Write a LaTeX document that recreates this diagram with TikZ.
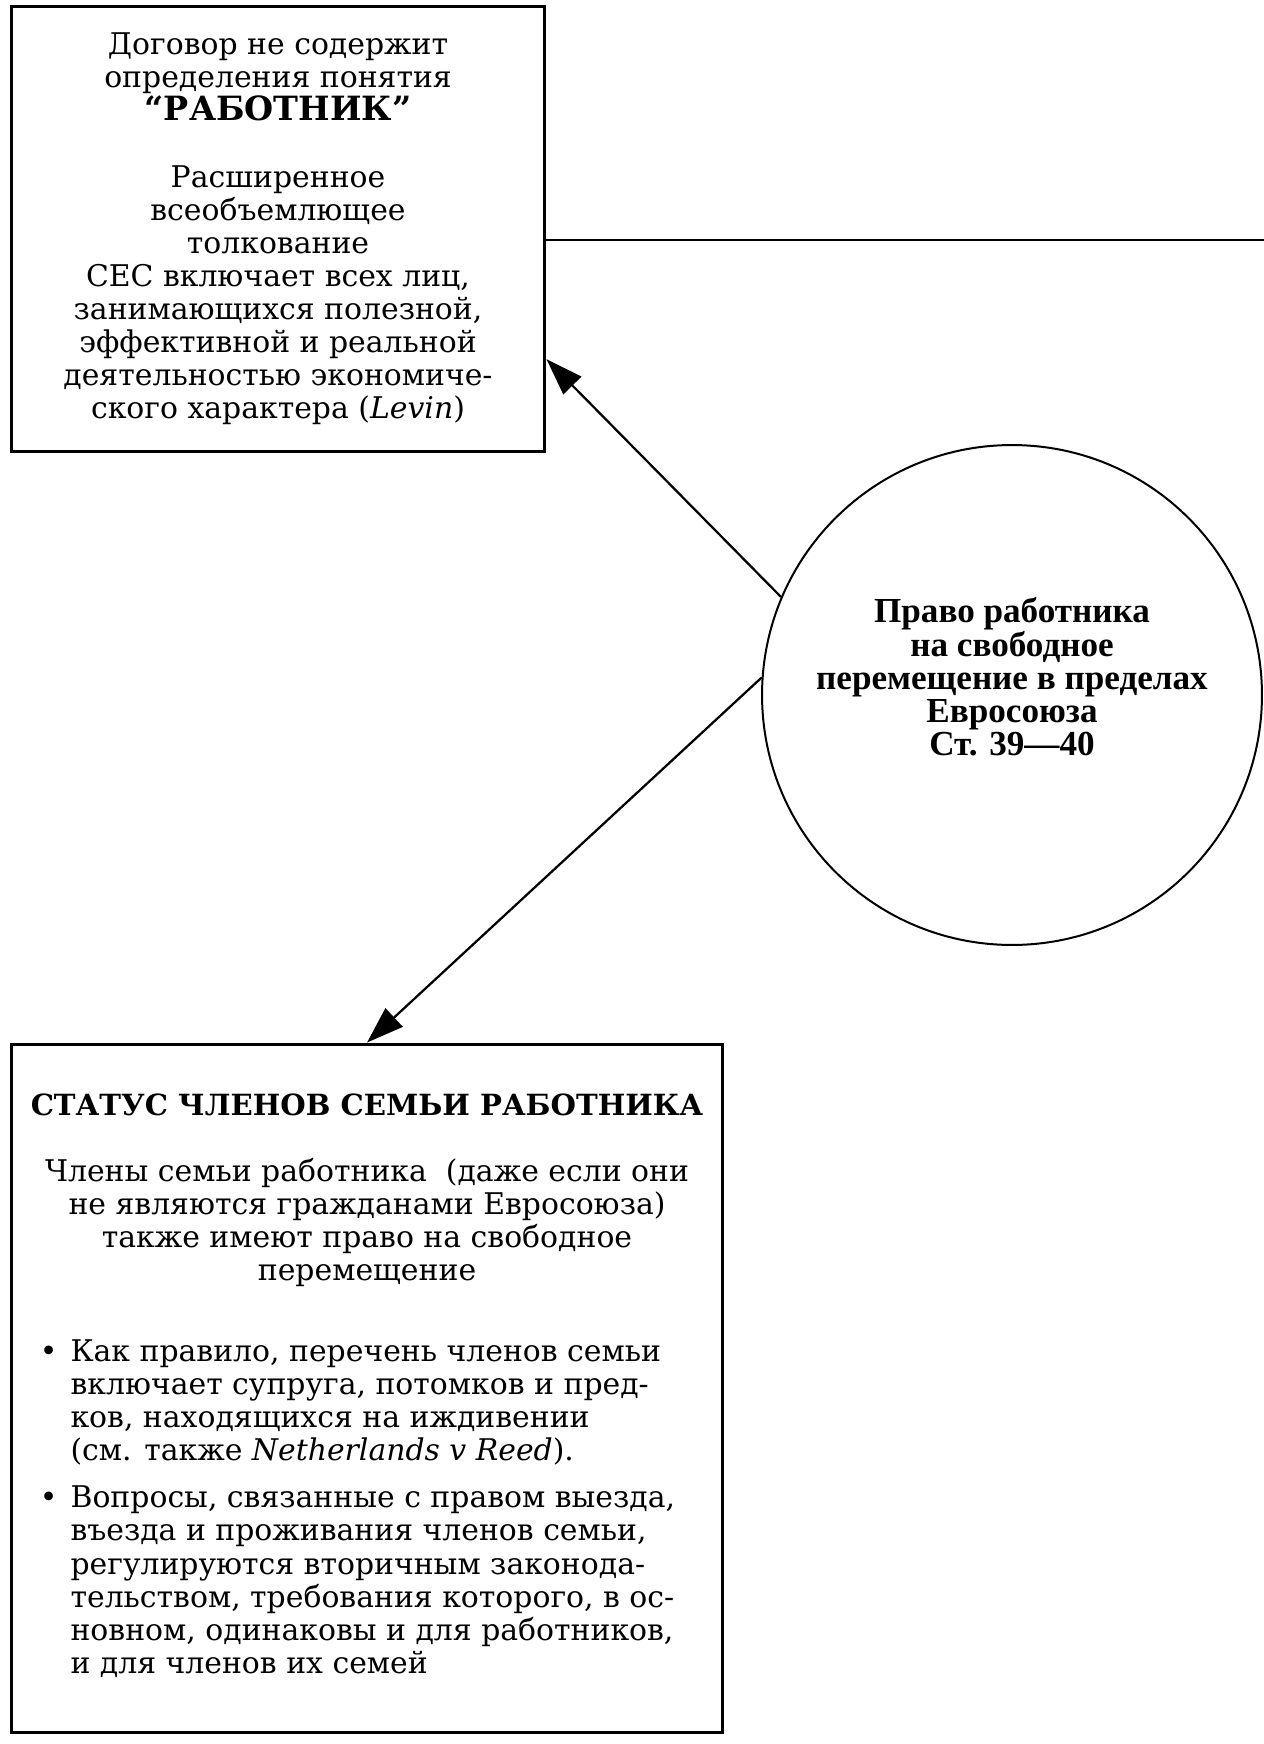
\documentclass[tikz,border=0pt]{standalone}
\usepackage{fontspec}
\setmainfont{DejaVu Serif}
\newfontfamily\circfont{Liberation Serif}
\usepackage{tikz}
\usetikzlibrary{positioning, arrows.meta, calc}

\begin{document}
\begin{tikzpicture}[
	x=0.02cm, y=-0.02cm,
	box/.style={rectangle, draw, line width=0.06cm, align=center, inner sep=0pt, font=\fontsize{17}{18.85}\selectfont},
	circ/.style={circle, draw, line width=0.04cm, minimum size=10cm, inner sep=0pt},
	circtext/.style={align=center, font=\circfont\bfseries\fontsize{20}{18.9}\selectfont},
	arrow/.style={line width=0.045cm, -{Triangle[length=0.74cm, width=0.5cm]}}
	]
	\useasboundingbox (0,0) rectangle (1264,1744);
	
	% Nodes
	\node[box, minimum width=10.68cm, minimum height=8.92cm] (defn) at (278,229) {Договор не содержит\\
		определения понятия\\
		{\bfseries\fontsize{19}{18.85}\selectfont “РАБОТНИК”}\\[18.85pt]
		Расширенное\\
		всеобъемлющее\\
		толкование\\
		СЕС включает всех лиц,\\
		занимающихся полезной,\\
		эффективной и реальной\\
		деятельностью экономиче-\\
		ского характера (\textit{Levin})};
	
	\node[circ] (right) at (1012,695) {};
	\node[circtext] (rightlabel) at (1012,677) {Право работника\\
		на свободное\\
		перемещение в пределах\\
		Евросоюза\\
		Ст. 39—40};
	
	\node[box, minimum width=14.24cm, minimum height=13.78cm] (family) at (367,1388.5) {{\bfseries\fontsize{16.6}{18.85}\selectfont СТАТУС ЧЛЕНОВ СЕМЬИ РАБОТНИКА}\\[18.85pt]
		Члены семьи работника\ \ (даже если они\\
		не являются гражданами Евросоюза)\\
		также имеют право на свободное\\
		перемещение\\[28pt]
		\begin{tabular}{@{}l@{\hspace{0.26cm}}l@{}}
			\textbullet & Как правило, перечень членов семьи\\
			& включает супруга, потомков и пред-\\
			& ков, находящихся на иждивении\\
			& (см. также \textit{Netherlands v Reed}).\\[8pt]
			\textbullet & Вопросы, связанные с правом выезда,\\
			& въезда и проживания членов семьи,\\
			& регулируются вторичным законода-\\
			& тельством, требования которого, в ос-\\
			& новном, одинаковы и для работников,\\
			& и для членов их семей
	\end{tabular}\hspace*{0.38cm}};
	
	\coordinate (rimend) at (1264,240);
	\coordinate (defnin) at ($(defn.south east)!0.21!(defn.north east)$);
	
	% Arrows
	\draw[line width=0.05cm] (defn.east |- rimend) -- (rimend);
	\draw[arrow] (right.157.6) -- (defnin);
	\draw[arrow] (right.176.6) -- (family.north);
	
\end{tikzpicture}
\end{document}
